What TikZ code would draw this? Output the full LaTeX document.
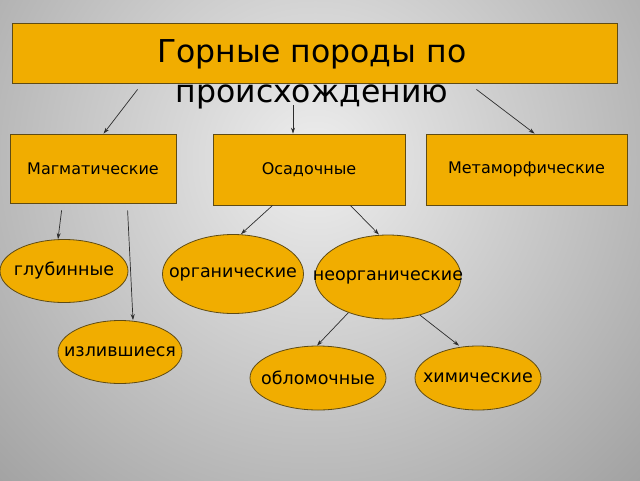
\documentclass[tikz,border=0pt]{standalone}
\usepackage{fontspec}
\setmainfont{DejaVu Sans}
\usepackage{tikz}
\usetikzlibrary{arrows.meta}
\usetikzlibrary{shapes.geometric}
\definecolor{rockfill}{RGB}{241,173,0}
\definecolor{rockline}{RGB}{95,75,20}
\definecolor{linkgray}{RGB}{45,45,45}
\definecolor{bgedge}{RGB}{128,128,128}
\definecolor{bgcentre}{RGB}{238,238,238}

\begin{document}
\begin{tikzpicture}[x=1pt, y=-1pt, >={Stealth[length=6pt,width=4pt]},
        rockbox/.style={rectangle, draw=rockline, fill=rockfill, line width=0.8pt,
            inner sep=0pt, font=\fontsize{16}{19}\selectfont},
        rockoval/.style={ellipse, draw=rockline, fill=rockfill, line width=0.8pt,
            inner xsep=-40pt, inner ysep=0pt, font=\fontsize{17.5}{20}\selectfont},
        link/.style={->, draw=linkgray, line width=0.7pt}]
        % Draw the background
        \useasboundingbox (0,0) rectangle (640,480);
        \fill[bgedge] (0,0) rectangle (640,480);
        \begin{scope}
            \clip (0,0) rectangle (640,480);
            \shade[inner color=bgcentre, outer color=bgedge] (315,160) circle (660);
        \end{scope}

        % Draw the title
        \node[rockbox, minimum width=605pt, minimum height=60pt] (title) at (314.5,53) {};
        \node[font=\fontsize{31.5}{40}\selectfont, align=center, anchor=north, inner sep=0pt]
            (titletext) at (312,39) {Горные породы по\\происхождению};

        % Draw the three groups
        \node[rockbox, minimum width=166pt, minimum height=69pt] (magm) at (93,168.5) {Магматические};
        \node[rockbox, minimum width=192pt, minimum height=71pt] (osad) at (309,169.5) {Осадочные};
        \node[rockbox, minimum width=201pt, minimum height=71pt] (metam) at (526.5,169.5) {Метаморфические};

        % Draw the kinds
        \node[rockoval, minimum width=128pt, minimum height=63pt] (glub) at (64,271) {глубинные};
        \node[rockoval, minimum width=124pt, minimum height=63pt] (izl) at (120,352) {излившиеся};
        \node[rockoval, minimum width=141pt, minimum height=79pt] (org) at (233,274) {органические};
        \node[rockoval, minimum width=146pt, minimum height=84pt] (neorg) at (388,277) {неорганические};
        \node[rockoval, minimum width=136pt, minimum height=64pt] (oblom) at (318,378) {обломочные};
        \node[rockoval, minimum width=126pt, minimum height=64pt] (him) at (478,378) {химические};

        % Draw the arrows
        \draw[link] ([xshift=126pt, yshift=-6pt]title.south west) -- ([xshift=94pt]magm.north west);
        \draw[link] ([xshift=-21.5pt, yshift=-22pt]title.south) -- ([xshift=-16pt]osad.north);
        \draw[link] ([xshift=-141pt, yshift=-6pt]title.south east) -- ([xshift=109pt]metam.north west);
        \draw[link] ([xshift=52pt, yshift=-7pt]magm.south west) -- ([xshift=-6pt]glub.north);
        \draw[link] ([xshift=118pt, yshift=-7pt]magm.south west) -- ([xshift=13pt]izl.north);
        \draw[link] ([xshift=60pt]osad.south west) -- ([xshift=8pt]org.north);
        \draw[link] ([xshift=-55pt]osad.south east) -- ([xshift=-9pt]neorg.north);
        \draw[link] (neorg.222) -- ([xshift=-1pt]oblom.north);
        \draw[link] (neorg.310) -- ([xshift=-19pt]him.north);
\end{tikzpicture}
\end{document}
